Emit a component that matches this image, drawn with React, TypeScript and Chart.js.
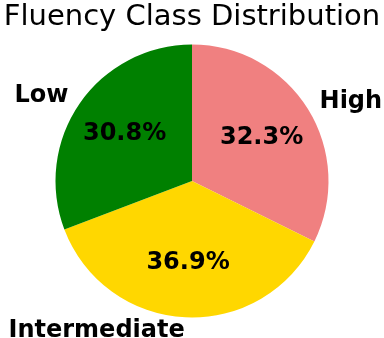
import React, { useEffect, useRef } from "react";
import { Chart, registerables } from "chart.js";

Chart.register(...registerables);

const TITLE = "Fluency Class Distribution";
const categories = ["High", "Intermediate", "Low"];
const counts = [21, 24, 20];
const colors = ["#F08080", "#FFD700", "#008000"];

const FONT = "'DejaVu Sans', sans-serif";

const pieLabels = {
  id: "pieLabels",
  afterDatasetsDraw(chart: any) {
    const ctx = chart.ctx;
    const meta = chart.getDatasetMeta(0);
    const data = chart.data.datasets[0].data as number[];
    const total = data.reduce((a: number, b: number) => a + b, 0);
    ctx.save();
    ctx.fillStyle = "#000";
    meta.data.forEach((arc: any, i: number) => {
      const p = arc.getProps(["x", "y", "startAngle", "endAngle", "outerRadius"], true);
      const mid = (p.startAngle + p.endAngle) / 2;
      const c = Math.cos(mid);
      const s = Math.sin(mid);
      ctx.font = `bold 24px ${FONT}`;
      // outer label
      const lx = p.x + c * p.outerRadius * 1.1;
      const ly = p.y + s * p.outerRadius * 1.1;
      ctx.textAlign = c > 0 ? "left" : "right";
      ctx.textBaseline = "alphabetic";
      ctx.fillText(chart.data.labels[i], lx, ly + 6);
      // percentage
      const px = p.x + c * p.outerRadius * 0.6;
      const py = p.y + s * p.outerRadius * 0.6;
      ctx.textAlign = "center";
      const pct = ((data[i] / total) * 100).toFixed(1) + "%";
      ctx.fillText(pct, px, py + 6);
    });
    ctx.restore();
  },
};

export default function App() {
  const ref = useRef<HTMLCanvasElement | null>(null);
  useEffect(() => {
    document.body.style.margin = "0";
    const chart = new Chart(ref.current as HTMLCanvasElement, {
      type: "pie",
      data: {
        labels: categories,
        datasets: [
          {
            data: counts,
            backgroundColor: colors,
            borderWidth: 0,
          },
        ],
      },
      options: {
        responsive: false,
        animation: false,
        layout: { padding: { left: 0, right: 0, top: 0, bottom: 20.5 } },
        plugins: {
          legend: { display: false },
          tooltip: { enabled: false },
          title: {
            display: true,
            text: TITLE,
            color: "#000",
            font: { family: FONT, size: 29, weight: "normal" },
            padding: { top: 0, bottom: 9.7 },
          },
        },
      },
      plugins: [pieLabels],
    });
    return () => chart.destroy();
  }, []);
  return <canvas ref={ref} width={384} height={338} style={{ display: "block" }} />;
}
